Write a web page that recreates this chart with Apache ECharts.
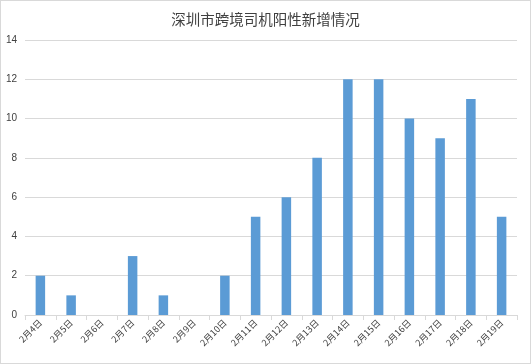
<!DOCTYPE html>
<html><head><meta charset="utf-8">
<script src="https://cdn.jsdelivr.net/npm/echarts@6/dist/echarts.min.js"></script>
<style>html,body{margin:0;padding:0;background:#fff}#c{width:531px;height:364px;box-sizing:border-box;border:1px solid #d9d9d9}</style>
</head><body><div id="c"></div>
<script>
const titleText = '深圳市跨境司机阳性新增情况';
const categories = ['2月4日','2月5日','2月6日','2月7日','2月8日','2月9日','2月10日','2月11日','2月12日','2月13日','2月14日','2月15日','2月16日','2月17日','2月18日','2月19日'];
const values = [2,1,0,3,1,0,2,5,6,8,12,12,10,9,11,5];
const chart = echarts.init(document.getElementById('c'), null, {renderer:'canvas'});
chart.setOption({
  animation:false,
  title:{text:titleText,left:'center',top:6,textStyle:{fontFamily:'Noto Sans CJK SC',fontSize:14.5,fontWeight:'normal',color:'#404040'}},
  grid:{left:24,right:13,top:39,bottom:48},
  xAxis:{type:'category',data:categories,
    axisLine:{lineStyle:{color:'#d9d9d9'}},
    axisTick:{show:true,length:5,lineStyle:{color:'#d9d9d9'}},
    axisLabel:{rotate:45,fontSize:9,color:'#404040',fontFamily:'Noto Sans CJK SC',margin:6,interval:0}},
  yAxis:{type:'value',min:0,max:14,interval:2,
    axisLine:{show:false},axisTick:{show:false},
    axisLabel:{fontSize:10,color:'#404040',fontFamily:'Liberation Sans',margin:8},
    splitLine:{lineStyle:{color:'#d9d9d9'}}},
  series:[{type:'bar',data:values,barWidth:9.5,itemStyle:{color:'#5b9bd5'}}]
});
</script></body></html>
